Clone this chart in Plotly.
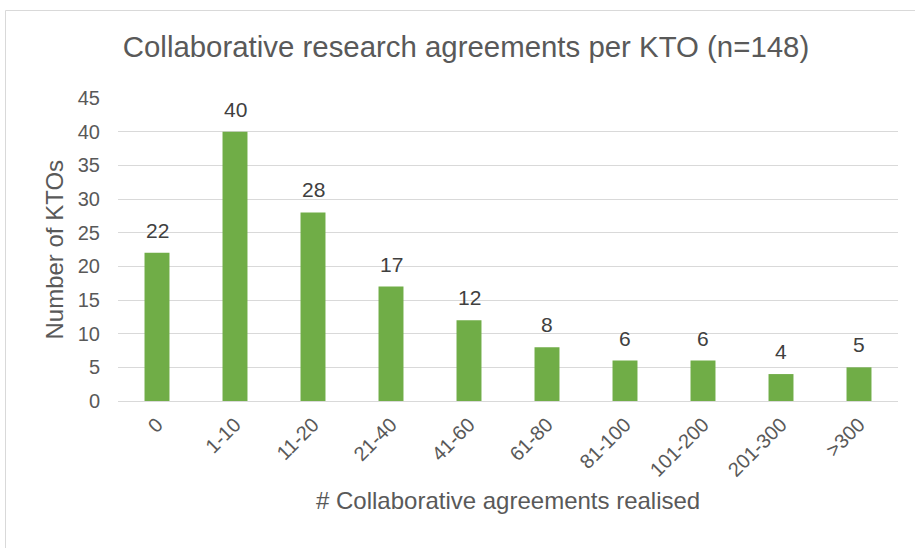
import plotly.graph_objects as go

categories = ["0", "1-10", "11-20", "21-40", "41-60", "61-80", "81-100", "101-200", "201-300", ">300"]
ktos = [22, 40, 28, 17, 12, 8, 6, 6, 4, 5]
y_ticks = [0, 5, 10, 15, 20, 25, 30, 35, 40, 45]

W, H = 915, 548
L, R, T, B = 118, 17, 98, 147
pw, ph = W - L - R, H - T - B

def px_x(px):
    return (px - L) / pw

def px_y(py):
    return (H - B - py) / ph

text_col = "#595959"
label_col = "#404040"
font = "Liberation Sans, Arial, sans-serif"

fig = go.Figure(go.Bar(
    x=categories, y=ktos, marker_color="#70AD47", marker_line_width=0,
    width=0.32, hoverinfo="x+y",
))

# Value labels above each bar
for c, v in zip(categories, ktos):
    fig.add_annotation(x=c, y=v, xref="x", yref="y", text=str(v), showarrow=False,
                       yanchor="bottom", xanchor="center", yshift=9,
                       font=dict(size=21, color=label_col, family=font))

# Axis titles
fig.add_annotation(text="# Collaborative agreements realised", xref="paper", yref="paper",
                   x=0.5, y=px_y(500), xanchor="center", yanchor="middle", showarrow=False,
                   font=dict(size=24, color=text_col, family=font))
fig.add_annotation(text="Number of KTOs", xref="paper", yref="paper",
                   x=px_x(54), y=0.5, xanchor="center", yanchor="middle", textangle=-90,
                   showarrow=False, font=dict(size=24, color=text_col, family=font))

fig.update_layout(
    width=W, height=H, margin=dict(l=L, r=R, t=T, b=B),
    paper_bgcolor="white", plot_bgcolor="white", showlegend=False,
    font=dict(family=font, color=text_col),
    title=dict(text="Collaborative research agreements per KTO (n=148)",
               x=466 / W, xref="container", xanchor="center", y=1 - 47 / H, yanchor="middle",
               font=dict(size=29.4, color=text_col, family=font)),
    xaxis=dict(tickangle=-45, tickfont=dict(size=20, color=text_col), showgrid=False,
               showline=True, linecolor="#D9D9D9", linewidth=1, ticks="",
               automargin=False, ticklabelstandoff=3),
    yaxis=dict(range=[0, 45], tickvals=y_ticks, tickfont=dict(size=20, color=text_col),
               showgrid=True, gridcolor="#D9D9D9", gridwidth=1, zeroline=False,
               ticks="", ticklabelstandoff=17, automargin=False),
)

# Light frame around the chart area
fig.add_shape(type="rect", xref="paper", yref="paper",
              x0=px_x(5.5), x1=px_x(W + 5), y0=px_y(H + 5), y1=px_y(10.5),
              line=dict(color="#D9D9D9", width=1), fillcolor="rgba(0,0,0,0)", layer="below")

fig.write_html("out.html")
